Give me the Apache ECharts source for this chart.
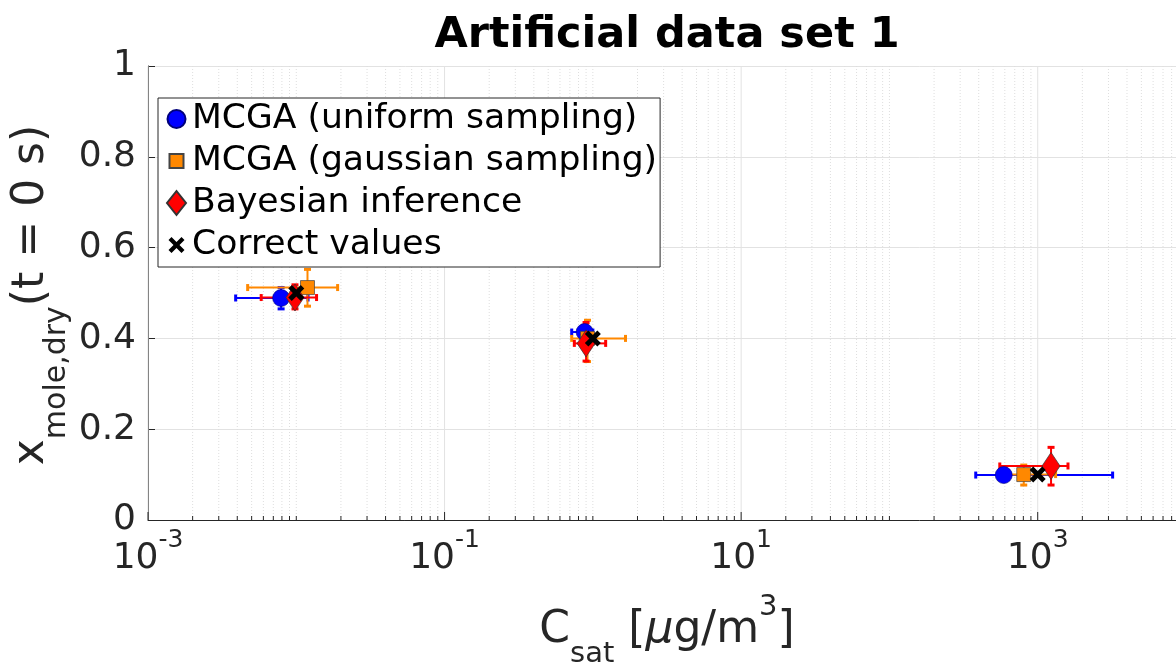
<!DOCTYPE html>
<html>
<head>
<meta charset="utf-8">
<script src="https://cdn.jsdelivr.net/npm/echarts@6/dist/echarts.min.js"></script>
<style>html,body{margin:0;padding:0;background:#fff}#c{width:1176px;height:662px}</style>
</head>
<body>
<div id="c"></div>
<script>
// ---------------- data ----------------
const seriesNames = ['MCGA (uniform sampling)', 'MCGA (gaussian sampling)', 'Bayesian inference', 'Correct values'];

const uniformX   = [0.0079, 0.88, 590];
const uniformY   = [0.489, 0.414, 0.099];
const uniformXLo = [0.0039, 0.72, 382];
const uniformXHi = [0.012, 1.0, 3200];
const uniformYLo = [0.465, 0.40, 0.093];
const uniformYHi = [0.512, 0.428, 0.105];

const gaussX   = [0.0119, 0.92, 805];
const gaussY   = [0.512, 0.400, 0.100];
const gaussXLo = [0.0047, 0.72, 575];
const gaussXHi = [0.019, 1.66, 1320];
const gaussYLo = [0.471, 0.349, 0.077];
const gaussYHi = [0.552, 0.44, 0.121];

const bayesX   = [0.0098, 0.90, 1230];
const bayesY   = [0.490, 0.389, 0.119];
const bayesXLo = [0.0058, 0.75, 555];
const bayesXHi = [0.0137, 1.22, 1600];
const bayesYLo = [0.465, 0.35, 0.077];
const bayesYHi = [0.518, 0.435, 0.16];

const correctX = [0.01, 1, 1000];
const correctY = [0.5, 0.4, 0.1];

const xMin = 0.001, xMax = 10000;
const xLabelExponents = [-3, -1, 1, 3];
const xDecadeExponents = [-3, -2, -1, 0, 1, 2, 3];
const xMinorMultipliers = [2, 3, 4, 5, 6, 7, 8, 9];
const yMin = 0, yMax = 1, yStep = 0.2;

// ---------------- helpers ----------------
const FONT = 'DejaVu Sans';
const AX = '#262626';

function rows(xs, ys, xlo, xhi, ylo, yhi) {
  return xs.map((x, i) => [x, ys[i], xlo[i], xhi[i], ylo[i], yhi[i]]);
}
function pts(xs, ys) { return xs.map((x, i) => [x, ys[i]]); }

function errRender(color) {
  return function (params, api) {
    const x = api.value(0), y = api.value(1);
    const l = api.coord([api.value(2), y]), r = api.coord([api.value(3), y]);
    const b = api.coord([x, api.value(4)]), t = api.coord([x, api.value(5)]);
    const c = 3.5;
    const ln = (x1, y1, x2, y2, w) => ({ type: 'line', shape: { x1, y1, x2, y2 }, style: { stroke: color, lineWidth: w } });
    return { type: 'group', children: [
      ln(l[0], l[1], r[0], r[1], 2),
      ln(b[0], b[1], t[0], t[1], 2),
      ln(l[0], l[1] - c, l[0], l[1] + c, 3),
      ln(r[0], r[1] - c, r[0], r[1] + c, 3),
      ln(b[0] - c, b[1], b[0] + c, b[1], 3),
      ln(t[0] - c, t[1], t[0] + c, t[1], 3)
    ] };
  };
}

// x grid / tick positions (structural axis decoration for log axis)
const xTickRows = [];
xDecadeExponents.forEach(e => {
  const isMajor = xLabelExponents.indexOf(e) >= 0;
  xTickRows.push([Math.pow(10, e), 0, isMajor ? 1 : 0]);
  xMinorMultipliers.forEach(m => xTickRows.push([m * Math.pow(10, e), 0, 0]));
});

function gridRender(params, api) {
  const v = api.value(0), major = api.value(2) === 1;
  const p0 = api.coord([v, yMin]), p1 = api.coord([v, yMax]);
  return { type: 'group', children: [
    { type: 'line', shape: { x1: p0[0], y1: p0[1], x2: p1[0], y2: p1[1] },
      style: major ? { stroke: '#e2e2e2', lineWidth: 1 } : { stroke: '#dedede', lineWidth: 1, lineDash: [1, 2] } },
    { type: 'line', shape: { x1: p0[0], y1: p0[1], x2: p0[0], y2: p0[1] - (major ? 8 : 4) },
      style: { stroke: AX, lineWidth: 1 } }
  ] };
}

const FRAME = 'M0,0 M21,24 ';
const legendIcons = [
  'path://' + FRAME + 'M1.5,12 A9,9 0 1,1 19.5,12 A9,9 0 1,1 1.5,12 Z',
  'path://' + FRAME + 'M3.5,5 L17.5,5 L17.5,19 L3.5,19 Z',
  'path://' + FRAME + 'M10.5,0 L20,12 L10.5,24 L1,12 Z',
  'path://' + FRAME + 'M2.5,7 L5.5,4 L10.5,9 L15.5,4 L18.5,7 L13.5,12 L18.5,17 L15.5,20 L10.5,15 L5.5,20 L2.5,17 L7.5,12 Z'
];
const X_PATH = 'path://M0,3.5 L3.5,0 L8,4.5 L12.5,0 L16,3.5 L11.5,8 L16,12.5 L12.5,16 L8,11.5 L3.5,16 L0,12.5 L4.5,8 Z';

const BLUE = '#0000ff', ORANGE = '#ff8800', RED = '#ff0000', BLACK = '#000000';

const option = {
  animation: false,
  backgroundColor: '#ffffff',
  grid: { left: 148, top: 66, width: 1038, height: 454, containLabel: false, outerBoundsMode: 'none' },
  xAxis: {
    type: 'log', logBase: 10, min: xMin, max: xMax,
    axisLine: { lineStyle: { color: AX, width: 1 } },
    axisTick: { show: false },
    splitLine: { show: false },
    minorTick: { show: false },
    axisLabel: {
      margin: 8,
      formatter: function (v) {
        const e = Math.round(Math.log10(v));
        return xLabelExponents.indexOf(e) >= 0 ? '{b|10}{s|' + e + '}' : '';
      },
      rich: {
        b: { fontFamily: FONT, fontSize: 36, color: AX, lineHeight: 61, verticalAlign: 'middle' },
        s: { fontFamily: FONT, fontSize: 25, color: AX, lineHeight: 25, verticalAlign: 'top' }
      }
    }
  },
  yAxis: {
    type: 'value', min: yMin, max: yMax, interval: yStep,
    axisLine: { show: true, lineStyle: { color: AX, width: 1 } },
    axisTick: { show: true, inside: true, length: 7, lineStyle: { color: AX } },
    splitLine: { show: true, lineStyle: { color: '#e2e2e2', width: 1 } },
    axisLabel: { fontFamily: FONT, fontSize: 36, color: AX, margin: 12 }
  },
  legend: {
    orient: 'vertical', left: 158, top: 98, selectedMode: false,
    backgroundColor: '#ffffff', borderColor: AX, borderWidth: 1,
    padding: [3, 3, 4, 7], itemWidth: 21, itemHeight: 24, itemGap: 6,
    textStyle: { fontFamily: FONT, fontSize: 34.6, color: '#000', lineHeight: 36 },
    data: seriesNames.map((n, i) => ({ name: n, icon: legendIcons[i] })),
    z: 20
  },
  graphic: [
    { type: 'text', x: 667, y: 36, style: { text: 'Artificial data set 1', fontFamily: FONT, fontSize: 43, fontWeight: 'bold', fill: '#000', align: 'center', verticalAlign: 'middle' } },
    { type: 'text', x: 667, y: 631,
      style: { text: '{n|C}{sub|sat}{n| [}{it|μ}{n|g/m}{sup|3}{n|]}', align: 'center', verticalAlign: 'middle',
        rich: {
          n: { fontFamily: FONT, fontSize: 44, fill: AX, lineHeight: 76, verticalAlign: 'middle' },
          it: { fontFamily: FONT, fontSize: 44, fontStyle: 'italic', fill: AX, lineHeight: 76, verticalAlign: 'middle' },
          sub: { fontFamily: FONT, fontSize: 29, fill: AX, lineHeight: 29, verticalAlign: 'bottom' },
          sup: { fontFamily: FONT, fontSize: 29, fill: AX, lineHeight: 45, verticalAlign: 'top' }
        } } },
    { type: 'text', x: 32, y: 295, rotation: Math.PI / 2,
      style: { text: '{n|x}{sub|mole,dry}{n|(t = 0 s)}', align: 'center', verticalAlign: 'middle',
        rich: {
          n: { fontFamily: FONT, fontSize: 44, fill: AX, lineHeight: 80, verticalAlign: 'middle' },
          sub: { fontFamily: FONT, fontSize: 30, fill: AX, lineHeight: 30, verticalAlign: 'bottom' }
        } } }
  ],
  series: [
    { type: 'custom', name: 'xgrid', data: xTickRows, encode: { x: 0, y: 1 }, renderItem: gridRender, silent: true, z: 1, clip: false },

    { type: 'custom', name: 'err-uniform', data: rows(uniformX, uniformY, uniformXLo, uniformXHi, uniformYLo, uniformYHi), encode: { x: 0, y: 1 }, renderItem: errRender(BLUE), z: 3 },
    { type: 'scatter', name: seriesNames[0], data: pts(uniformX, uniformY), symbol: 'circle', symbolSize: 17,
      itemStyle: { color: BLUE, borderColor: '#00007a', borderWidth: 0.6, opacity: 1 }, z: 3 },

    { type: 'custom', name: 'err-gauss', data: rows(gaussX, gaussY, gaussXLo, gaussXHi, gaussYLo, gaussYHi), encode: { x: 0, y: 1 }, renderItem: errRender(ORANGE), z: 3 },
    { type: 'scatter', name: seriesNames[1], data: pts(gaussX, gaussY), symbol: 'rect', symbolSize: 14,
      itemStyle: { color: ORANGE, borderColor: '#444', borderWidth: 0.7, opacity: 1 }, z: 3 },

    { type: 'custom', name: 'err-bayes', data: rows(bayesX, bayesY, bayesXLo, bayesXHi, bayesYLo, bayesYHi), encode: { x: 0, y: 1 }, renderItem: errRender(RED), z: 3 },
    { type: 'scatter', name: seriesNames[2], data: pts(bayesX, bayesY), symbol: 'diamond', symbolSize: [18, 27],
      itemStyle: { color: RED, borderColor: '#333', borderWidth: 0.7, opacity: 1 }, z: 3 },

    { type: 'scatter', name: seriesNames[3], data: pts(correctX, correctY), symbol: X_PATH, symbolSize: 16,
      itemStyle: { color: BLACK, opacity: 1 }, z: 3 }
  ]
};

const chart = echarts.init(document.getElementById('c'), null, { renderer: 'canvas' });
chart.setOption(option);
</script>
</body>
</html>
